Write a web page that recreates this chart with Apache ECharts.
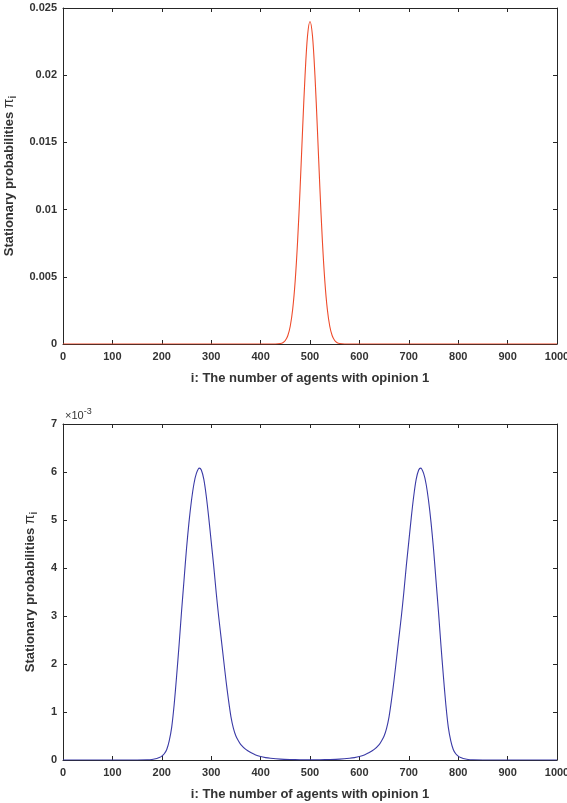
<!DOCTYPE html>
<html><head><meta charset="utf-8">
<script src="https://cdn.jsdelivr.net/npm/echarts@6/dist/echarts.min.js"></script>
<style>html,body{margin:0;padding:0;background:#fff}#c{width:567px;height:803px}</style>
</head><body><div id="c"></div>
<script>
// Top chart: stationary probabilities (red)
const topI = [0,100,200,300,400,430,440,445,450,455,460,465,470,475,480,485,490,495,500,505,510,515,520,525,530,535,540,545,550,555,560,570,600,700,800,900,1000];
const topVals = [0,0,0,0,0,0.000003,0.000035,0.0001,0.00026,0.00061,0.00132,0.0026,0.00469,0.00772,0.0116,0.01596,0.0200,0.02293,0.0240,0.02293,0.0200,0.01596,0.0116,0.00772,0.00469,0.0026,0.00132,0.00061,0.00026,0.0001,0.000035,0.000003,0,0,0,0,0];
// Bottom chart: stationary probabilities in units of 10^-3 (blue)
const botI = [0,100,150,170,180,190,195,200,205,210,215,220,225,230,235,240,245,250,255,260,265,270,276,280,285,290,295,300,305,310,315,320,325,330,335,340,345,350,355,360,370,380,390,400,410,420,440,460,480,500,
  520,540,560,580,590,600,610,620,630,640,645,650,655,660,665,670,675,680,685,690,695,700,705,710,715,720,724,730,735,740,745,750,755,760,765,770,775,780,785,790,795,800,805,810,820,830,850,900,1000];
const botValsE3 = [0,0,0.001,0.004,0.01,0.03,0.05,0.08,0.13,0.22,0.4,0.68,1.15,1.75,2.4,3.1,3.75,4.4,4.95,5.4,5.75,5.97,6.08,6.04,5.85,5.5,5.05,4.55,4.05,3.5,3.0,2.55,2.1,1.65,1.25,0.9,0.66,0.5,0.4,0.32,0.22,0.155,0.105,0.072,0.05,0.036,0.018,0.01,0.006,0.005,
  0.006,0.01,0.018,0.036,0.05,0.072,0.105,0.155,0.22,0.32,0.4,0.5,0.66,0.9,1.25,1.65,2.1,2.55,3.0,3.5,4.05,4.55,5.05,5.5,5.85,6.04,6.08,5.97,5.75,5.4,4.95,4.4,3.75,3.1,2.4,1.75,1.15,0.68,0.4,0.22,0.13,0.08,0.05,0.03,0.01,0.004,0.001,0,0];
const xTicks = [0,100,200,300,400,500,600,700,800,900,1000];
const topYTicks = ['0','0.005','0.01','0.015','0.02','0.025'];
const botYTicks = ['0','1','2','3','4','5','6','7'];

const axisColor = '#262626';
const labelColor = '#333';
const font = '"Liberation Sans", Arial, Helvetica, sans-serif';

const chart = echarts.init(document.getElementById('c'), null, {renderer:'canvas'});
function xAx(grid, bottom) {
  return {
    type:'value', gridIndex:grid, min:0, max:1000, interval:100,
    position: bottom ? 'bottom' : 'top',
    axisLine:{show:true, onZero:false, lineStyle:{color:axisColor, width:1}},
    axisTick:{show:true, inside:true, length:4, lineStyle:{color:axisColor}},
    axisLabel:{show:bottom, color:labelColor, fontSize:11, fontWeight:'bold', fontFamily:font, margin:7,
      formatter: v => xTicks.includes(v) ? String(v) : ''},
    splitLine:{show:false},
    name: bottom ? 'i: The number of agents with opinion 1' : '',
    nameLocation:'middle', nameGap:28,
    nameTextStyle:{color:labelColor, fontSize:13, fontWeight:'bold', fontFamily:font}
  };
}
function yAx(grid, left, max, interval, labels, gap) {
  return {
    type:'value', gridIndex:grid, min:0, max:max, interval:interval,
    position: left ? 'left' : 'right',
    axisLine:{show:true, onZero:false, lineStyle:{color:axisColor, width:1}},
    axisTick:{show:true, inside:true, length:4, lineStyle:{color:axisColor}},
    axisLabel:{show:left, color:labelColor, fontSize:11, fontWeight:'bold', fontFamily:font, margin:6,
      formatter: (v) => labels[Math.round(v/interval)]},
    splitLine:{show:false},
    name: left ? 'Stationary probabilities {pi|π}{sub|i}' : '',
    nameLocation:'middle', nameGap:gap, nameRotate:90,
    nameTextStyle:{color:labelColor, fontSize:13, fontWeight:'bold', fontFamily:font,
      rich:{pi:{fontSize:14, fontWeight:'normal', fontFamily:font, color:labelColor},
            sub:{fontSize:10, fontWeight:'bold', fontFamily:font, color:labelColor, padding:[0,0,-8,0]}}}
  };
}
const topData = topI.map((x,k)=>[x, topVals[k]]);
const botData = botI.map((x,k)=>[x, botValsE3[k]]);
chart.setOption({
  animation:false,
  backgroundColor:'#fff',
  grid:[{left:63, top:8, width:494, height:336, outerBoundsMode:'none', containLabel:false},
        {left:63, top:424, width:494, height:336, outerBoundsMode:'none', containLabel:false}],
  xAxis:[xAx(0,true), xAx(0,false), xAx(1,true), xAx(1,false)],
  yAxis:[yAx(0,true,0.025,0.005,topYTicks,43), yAx(0,false,0.025,0.005,topYTicks,43),
         yAx(1,true,7,1,botYTicks,26), yAx(1,false,7,1,botYTicks,26)],
  series:[
    {type:'line', xAxisIndex:0, yAxisIndex:0, data:topData, showSymbol:false, smooth:0.3,
     lineStyle:{color:'#ee4a2a', width:1.1}, z:5},
    {type:'line', xAxisIndex:2, yAxisIndex:2, data:botData, showSymbol:false, smooth:0.3,
     lineStyle:{color:'#3a3aa6', width:1.1}, z:5}
  ],
  graphic:[{type:'text', left:65, top:407,
    style:{text:'×10{sup|-3}', fill:labelColor, font:'11px '+font,
      rich:{sup:{fontSize:9, fill:labelColor, fontFamily:font, padding:[0,0,8,0]}}}}]
});
</script></body></html>
